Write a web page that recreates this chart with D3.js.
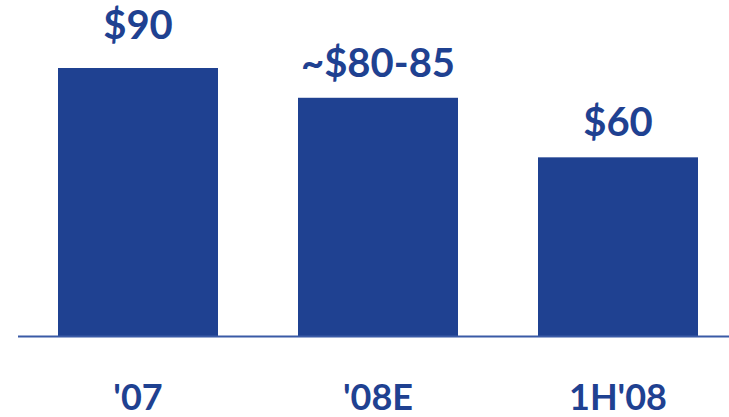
<!DOCTYPE html>
<html>
<head>
<meta charset="utf-8">
<script src="https://cdn.jsdelivr.net/npm/d3@7"></script>
<style>
  body { margin: 0; background: #fff; }
  text { font-family: Lato, "Open Sans", sans-serif; font-weight: 700; fill: #1f4191; }
</style>
</head>
<body>
<div id="chart"></div>
<script>
// chart data
var categories = ["'07", "'08E", "1H'08"]
var values = [90, 80, 60]
var valueLabels = ["$90", "~$80-85", "$60"]

var width = 729,
  height = 417,
  blue = "#1f4191"

var svg = d3.select("#chart").append("svg")
  .attr("width", width)
  .attr("height", height)

// x band scale, bars 160px wide with 80px gaps
var x = d3.scaleBand()
  .domain(categories)
  .range([18, 738])
  .paddingInner(1 / 3)
  .paddingOuter(1 / 6)

// y scale: baseline at 336
var y = d3.scaleLinear().domain([0, 90]).range([336, 68])

svg.append("g")
  .selectAll("rect")
  .data(values)
  .enter().append("rect")
  .attr("x", function(d, i) { return x(categories[i]) })
  .attr("y", function(d) { return y(d) })
  .attr("width", x.bandwidth())
  .attr("height", function(d) { return y(0) - y(d) })
  .attr("fill", blue)

// baseline
svg.append("line")
  .attr("x1", 18).attr("x2", width)
  .attr("y1", y(0) + 0.5).attr("y2", y(0) + 0.5)
  .attr("stroke", "#3a5aa6")
  .attr("stroke-width", 2)

// value labels above bars
svg.append("g")
  .selectAll("text")
  .data(values)
  .enter().append("text")
  .attr("x", function(d, i) { return x(categories[i]) + x.bandwidth() / 2 })
  .attr("y", function(d, i) { return y(d) - (i === 0 ? 29 : 21) })
  .attr("text-anchor", "middle")
  .style("font-size", "40px")
  .text(function(d, i) { return valueLabels[i] })

// category labels below axis
svg.append("g")
  .selectAll("text")
  .data(categories)
  .enter().append("text")
  .attr("x", function(d) { return x(d) + x.bandwidth() / 2 })
  .attr("y", 410)
  .attr("text-anchor", "middle")
  .style("font-size", "36px")
  .text(function(d) { return d })
</script>
</body>
</html>
